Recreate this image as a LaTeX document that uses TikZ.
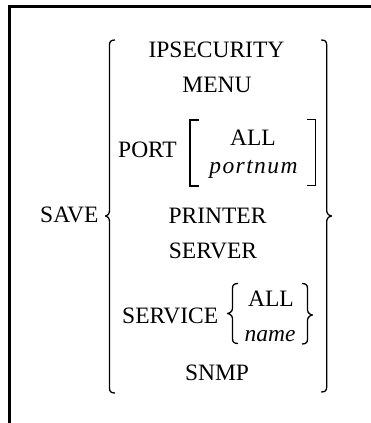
\documentclass[tikz,border=0pt]{standalone}
\usepackage{fontspec}
\setmainfont{Liberation Serif}
% left curly brace: x, top, middle, bottom, cusp depth
\newcommand{\curlyL}[5]{%
  \draw[brc] (#1+5.5,#2) .. controls (#1+1.5,#2) and (#1,#2+1.5) .. (#1,#2+5)
    -- (#1,#3-5) .. controls (#1,#3-1.5) and (#1-#5+1,#3) .. (#1-#5,#3)
    .. controls (#1-#5+1,#3) and (#1,#3+1.5) .. (#1,#3+5)
    -- (#1,#4-5) .. controls (#1,#4-1.5) and (#1+1.5,#4) .. (#1+5.5,#4);}
% right curly brace: x, top, middle, bottom, cusp depth
\newcommand{\curlyR}[5]{%
  \draw[brc] (#1-5.5,#2) .. controls (#1-1.5,#2) and (#1,#2+1.5) .. (#1,#2+5)
    -- (#1,#3-5) .. controls (#1,#3-1.5) and (#1+#5-1,#3) .. (#1+#5,#3)
    .. controls (#1+#5-1,#3) and (#1,#3+1.5) .. (#1,#3+5)
    -- (#1,#4-5) .. controls (#1,#4-1.5) and (#1-1.5,#4) .. (#1-5.5,#4);}
\tikzset{
  lbl/.style={inner sep=0pt, anchor=base, font=\fontsize{23.5}{28}\selectfont},
  var/.style={lbl, font=\fontsize{23.5}{28}\selectfont\itshape},
  brc/.style={line width=1.3pt, line join=round},
  brk/.style={line width=1.1pt},
  frame/.style={line width=3pt}
}
\begin{document}
\begin{tikzpicture}[x=1pt,y=-1pt]
\useasboundingbox (0,0) rectangle (371,423);
% frame on the left and top edges
\draw[frame] (9.5,423) -- (9.5,6.3) -- (371,6.3);

% keywords
\node[lbl,anchor=base west] (save) at (40,222) {SAVE};
\node[lbl] (ipsec) at (216.5,57) {IPSECURITY};
\node[lbl] (menu) at (217,92) {MENU};
\node[lbl,anchor=base west] (port) at (118,157) {PORT};
\node[lbl] (portall) at (253,145) {ALL};
\node[var] (portnum) at (253.5,173) {\addfontfeatures{LetterSpace=6}portnum};
\node[lbl] (printer) at (217.5,223) {PRINTER};
\node[lbl] (server) at (213,258) {SERVER};
\node[lbl,anchor=base west] (service) at (122,323) {SERVICE};
\node[lbl] (svcall) at (271,306) {ALL};
\node[var] (svcname) at (270,341) {name};
\node[lbl] (snmp) at (217,380) {SNMP};

% outer choice braces
\curlyL{109.5}{40}{216}{393}{4}
\curlyR{326.7}{40}{216}{392}{5}

% optional port argument brackets
\draw[brk] (199,120) -- (190,120) -- (190,186) -- (199,186);
\draw[brk] (307,119.5) -- (315.5,119.5) -- (315.5,185.5) -- (307,185.5);

% service argument braces
\curlyL{232.5}{283.5}{313.5}{343.5}{5}
\curlyR{307.5}{283.5}{315}{344}{5}
\end{tikzpicture}
\end{document}
